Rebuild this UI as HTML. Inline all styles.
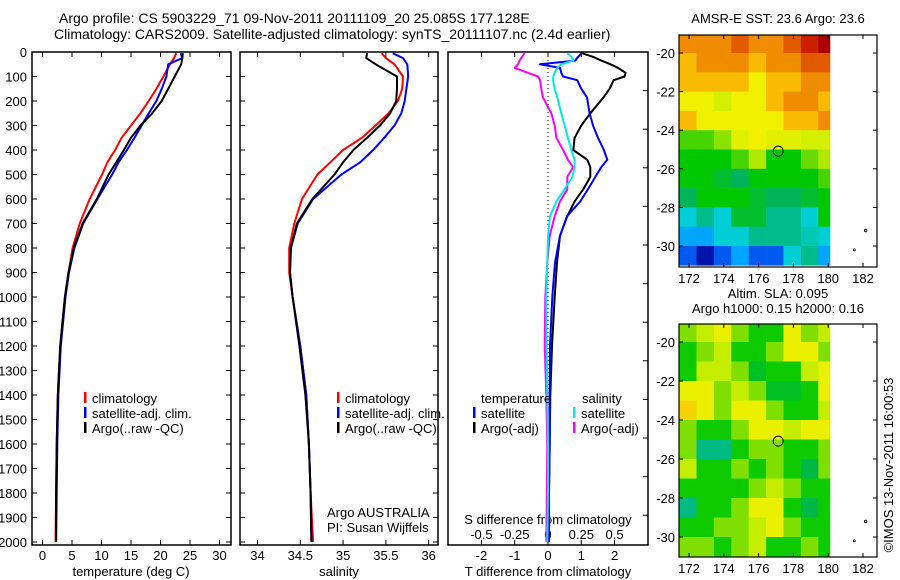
<!DOCTYPE html>
<html><head><meta charset="utf-8">
<style>
html,body{margin:0;padding:0;background:#fff;}
svg{display:block;font-family:"Liberation Sans",sans-serif;}
text{font-size:13px;fill:#000;}
</style></head>
<body>
<svg id="fig" width="900" height="580" viewBox="0 0 900 580">
<text x="59" y="23" style="font-size:14px">Argo profile: CS 5903229_71 09-Nov-2011 20111109_20 25.085S 177.128E</text>
<text x="54" y="39" style="font-size:14px">Climatology: CARS2009. Satellite-adjusted climatology: synTS_20111107.nc (2.4d earlier)</text>
<g id="g1"></g>
<g id="g2"></g>
<g id="g3"></g>
<g id="g4"></g>
<g id="g5"></g>
<text x="778" y="23" text-anchor="middle">AMSR-E SST: 23.6 Argo: 23.6</text>
<text x="778" y="298" text-anchor="middle">Altim. SLA: 0.095</text>
<text x="778" y="313" text-anchor="middle">Argo h1000: 0.15 h2000: 0.16</text>
<text transform="translate(893,465) rotate(-90)" text-anchor="middle">©IMOS 13-Nov-2011 16:00:53</text>
<text x="327" y="517">Argo AUSTRALIA</text>
<text x="327" y="532">PI: Susan Wijffels</text>
</svg>
<script>
// ---- profile data ----
const depths = [5,25,50,100,150,200,250,300,350,400,450,500,600,700,800,900,1000,1200,1400,1600,1800,2000];
const tempClim = [22.7,22.3,21.6,20.5,19.3,18.0,16.6,15.0,13.4,12.3,11.0,10.1,8.0,6.3,5.1,4.4,3.8,3.0,2.6,2.4,2.3,2.2];
const tempSat  = [23.4,23.7,21.3,21.0,20.2,19.3,18.0,16.8,15.6,14.3,12.9,11.8,9.3,6.9,5.4,4.5,3.9,3.1,2.7,2.5,2.4,2.3];
const tempArgo = [23.8,23.7,23.5,22.4,21.3,20.2,18.6,16.6,15.0,13.8,12.5,11.2,9.2,6.8,5.3,4.4,3.8,3.0,2.6,2.4,2.3,2.3];
const salClim = [35.45,35.50,35.60,35.70,35.69,35.64,35.53,35.38,35.22,35.00,34.85,34.70,34.52,34.43,34.37,34.37,34.41,34.50,34.57,34.60,34.62,34.65];
const salSat  = [35.58,35.70,35.75,35.76,35.74,35.72,35.68,35.60,35.48,35.35,35.20,34.98,34.65,34.47,34.39,34.38,34.41,34.50,34.57,34.60,34.62,34.63];
const salArgo = [35.28,35.27,35.38,35.63,35.63,35.62,35.55,35.43,35.28,35.12,35.00,34.90,34.64,34.46,34.39,34.38,34.41,34.49,34.56,34.60,34.62,34.63];
const diffDepths = [5,20,35,50,65,85,100,115,150,185,250,300,350,400,440,470,510,560,610,670,750,860,1000,1200,1400,1600,1800,2000];
const dTSat  = [1.02,0.9,0.82,-0.24,0.36,0.4,0.45,0.88,1.0,1.17,1.25,1.35,1.5,1.68,1.78,1.6,1.42,1.2,0.97,0.57,0.36,0.21,0.13,0.06,0.05,0.05,0.03,0.02];
const dTArgo = [1.02,1.36,1.6,1.88,2.1,2.33,2.3,1.97,1.85,1.67,1.27,1.0,0.8,0.76,1.18,1.27,1.27,1.06,0.8,0.58,0.36,0.27,0.2,0.12,0.07,0.05,0.03,0.03];
const dSSat  = [0.145,0.175,0.19,0.1,0.068,0.05,0.04,0.038,0.05,0.07,0.1,0.125,0.15,0.175,0.2,0.2,0.183,0.125,0.063,0.015,0,-0.005,-0.013,-0.01,-0.005,0,0,-0.005];
const dSArgo = [-0.175,-0.195,-0.213,-0.225,-0.25,-0.15,-0.075,-0.06,-0.05,-0.038,0.025,0.05,0.063,0.113,0.15,0.188,0.145,0.145,0.09,0.05,0.013,-0.005,-0.02,-0.025,-0.013,-0.005,-0.008,-0.013];
const depthTicks = [0,100,200,300,400,500,600,700,800,900,1000,1100,1200,1300,1400,1500,1600,1700,1800,1900,2000];
const tempTicks = [0,5,10,15,20,25,30];
const salTicks = [34,34.5,35,35.5,36];
const dTTicks = [-2,-1,0,1,2];
const dSTicks = [-0.5,-0.25,0,0.25,0.5];
const dSTickLabels = ['-0.5','-0.25','0','0.25','0.5'];
// ---- map data (1 degree cells, rows from -19 southward, cols from 171.5 east) ----
const sstGrid = [
[24.7,24.7,24.7,24.9,24.7,24.7,24.9,25.1,25.3],
[24.4,24.7,24.7,24.7,24.4,24.7,24.7,24.9,24.9],
[24.4,24.4,24.4,24.4,24.1,24.4,24.4,24.7,24.7],
[24.1,24.1,23.9,24.1,24.1,24.4,24.7,24.7,24.4],
[24.4,24.1,24.1,24.1,24.1,24.1,24.4,24.4,24.7],
[23.5,23.5,23.7,24.0,24.1,24.0,24.0,23.9,23.9],
[23.3,23.3,23.3,23.5,23.8,23.3,23.3,23.6,23.8],
[23.3,23.3,23.2,23.1,23.3,23.3,23.3,23.3,23.5],
[23.1,23.3,23.3,23.3,23.2,23.1,23.1,23.2,23.3],
[22.8,23.0,22.8,23.2,23.2,23.0,23.0,22.8,23.3],
[22.6,22.6,22.8,22.8,23.0,23.0,23.0,22.9,22.8],
[22.3,21.9,22.3,22.6,22.3,22.3,22.8,23.0,22.6]];
const slaGrid = [
[0.04,0.09,0.14,0.04,-0.04,-0.04,0.14,0.04,0.09],
[-0.04,0.04,0.09,-0.04,-0.04,0.04,0.14,0.14,0.04],
[-0.04,0.09,0.09,0.04,-0.07,-0.04,-0.04,0.09,0.14],
[0.14,0.14,0.04,0.09,0.04,-0.07,-0.07,-0.04,0.14],
[0.19,0.14,0.04,0.14,0.14,0.04,-0.04,-0.04,0.09],
[0.04,-0.04,-0.04,0.04,0.14,0.14,0.09,0.14,0.14],
[0.04,-0.12,-0.12,-0.04,0.04,0.04,-0.04,-0.04,0.04],
[0.09,-0.04,-0.04,0.04,-0.04,0.04,-0.04,-0.09,0.04],
[-0.04,-0.04,-0.04,-0.04,0.04,0.09,0.04,-0.04,-0.04],
[-0.12,-0.04,-0.04,0.04,0.14,0.14,-0.04,-0.09,-0.04],
[-0.04,-0.04,0.04,0.04,0.09,0.14,0.04,-0.04,-0.04],
[0.04,0.04,-0.04,0.04,0.09,-0.04,-0.04,0.04,-0.04]];
const lonTicks = [172,174,176,178,180,182];
const latTicks = [-20,-22,-24,-26,-28,-30];
const argoLon = 177.128, argoLat = -25.085;

const NS='http://www.w3.org/2000/svg';
function mk(parent,tag,attrs,txt){const e=document.createElementNS(NS,tag);for(const k in attrs)e.setAttribute(k,attrs[k]);if(txt!==undefined)e.textContent=txt;parent.appendChild(e);return e;}
const yD = d => 52 + d*0.245;
const PT = 545;

function panel(g,x0,x1,name){
  const r=mk(g,'rect',{x:x0,y:52,width:x1-x0,height:PT-52,fill:'none',stroke:'#000','stroke-width':1.5});
  
  
}
function line(g,xs,ys,color,name,w){
  const pts=xs.map((v,i)=>xs[i].toFixed(1)+','+ys[i].toFixed(1)).join(' ');
  const p=mk(g,'polyline',{points:pts,fill:'none',stroke:color,'stroke-width':w||2,'stroke-linejoin':'round'});
  
  
}
function legend(g,x,y,color,label,name){
  mk(g,'rect',{x:x,y:y-6,width:2.5,height:11,fill:color});
  const t=mk(g,'text',{x:x+8,y:y+5},label);
  
  
}
function yTicks(g,x0,x1,left,right){
  depthTicks.forEach(d=>{const y=yD(d);
    if(left)mk(g,'line',{x1:x0,x2:x0+5,y1:y,y2:y,stroke:'#000'});
    if(right)mk(g,'line',{x1:x1-5,x2:x1,y1:y,y2:y,stroke:'#000'});});
}
function xTicks(g,ticks,fx,labels,ylab){
  ticks.forEach((v,i)=>{const x=fx(v);
    mk(g,'line',{x1:x,x2:x,y1:52,y2:57,stroke:'#000'});
    mk(g,'line',{x1:x,x2:x,y1:PT-5,y2:PT,stroke:'#000'});
    const t=mk(g,'text',{x:x,y:ylab,'text-anchor':'middle'},labels?labels[i]:String(v));
    
    });
}
// Panel 1 temperature
const g1=document.getElementById('g1');
const xT = t => 42.5 + t*5.9;
panel(g1,32,231,'temperature');
yTicks(g1,32,231,true,true);
depthTicks.forEach(d=>{const t=mk(g1,'text',{x:27,y:yD(d)+5,'text-anchor':'end'},String(d));
  
  });
xTicks(g1,tempTicks,xT,null,560);
line(g1,tempClim.map(xT),depths.map(yD),'#f00','temp-climatology-line');
line(g1,tempSat.map(xT),depths.map(yD),'#0000ff','temp-satellite-line');
line(g1,tempArgo.map(xT),depths.map(yD),'#000','temp-argo-line');
legend(g1,84,398,'#f00','climatology','legend-climatology');
legend(g1,84,413,'#0000ff','satellite-adj. clim.','legend-satellite');
legend(g1,84,428,'#000','Argo(..raw -QC)','legend-argo');
mk(g1,'text',{x:131,y:576,'text-anchor':'middle'},'temperature (deg C)');

// Panel 2 salinity
const g2=document.getElementById('g2');
const xS = s => 257.5 + (s-34)*85.6;
panel(g2,240,438,'salinity');
yTicks(g2,240,438,true,true);
xTicks(g2,salTicks,xS,['34','34.5','35','35.5','36'],560);
line(g2,salClim.map(xS),depths.map(yD),'#f00','sal-climatology-line');
line(g2,salSat.map(xS),depths.map(yD),'#0000ff','sal-satellite-line');
line(g2,salArgo.map(xS),depths.map(yD),'#000','sal-argo-line');
legend(g2,337,398,'#f00','climatology','legend-climatology-2');
legend(g2,337,413,'#0000ff','satellite-adj. clim.','legend-satellite-2');
legend(g2,337,428,'#000','Argo(..raw -QC)','legend-argo-2');
mk(g2,'text',{x:339,y:576,'text-anchor':'middle'},'salinity');

// Panel 3 differences
const g3=document.getElementById('g3');
const xDT = t => 548 + t*33.3;
const xDS = s => 548 + s*133.2;
panel(g3,448,648,'difference');
for(let y=52;y<PT;y+=38.6){mk(g3,'line',{x1:643,x2:648,y1:y,y2:y,stroke:'#000'});}
xTicks(g3,dTTicks,xDT,null,560);
dSTicks.forEach((v,i)=>{const t=mk(g3,'text',{x:xDS(v),y:539,'text-anchor':'middle'},dSTickLabels[i]);
  
  });
mk(g3,'text',{x:548,y:524,'text-anchor':'middle'},'S difference from climatology');
mk(g3,'line',{x1:548,x2:548,y1:52,y2:PT,stroke:'#000','stroke-dasharray':'1,3'});
line(g3,dSArgo.map(xDS),diffDepths.map(yD),'#ff00ff','sal-diff-argo-line');
line(g3,dTArgo.map(xDT),diffDepths.map(yD),'#000','temp-diff-argo-line');
line(g3,dTSat.map(xDT),diffDepths.map(yD),'#0000ff','temp-diff-satellite-line');
line(g3,dSSat.map(xDS),diffDepths.map(yD),'#00e8f0','sal-diff-satellite-line');
mk(g3,'text',{x:481,y:403},'temperature');
mk(g3,'text',{x:582,y:403},'salinity');
legend(g3,473,413,'#0000ff','satellite','legend-temp-satellite');
legend(g3,473,428,'#000','Argo(-adj)','legend-temp-argo');
legend(g3,573,413,'#00e8f0','satellite','legend-sal-satellite');
legend(g3,573,428,'#ff00ff','Argo(-adj)','legend-sal-argo');
mk(g3,'text',{x:548,y:576,'text-anchor':'middle'},'T difference from climatology');

// colormap
const stops=[[0.05,[0,0,140]],[0.1,[0,20,170]],[0.2,[0,90,240]],[0.28,[0,170,255]],[0.33,[0,210,210]],[0.37,[0,190,150]],[0.4,[0,180,90]],[0.45,[0,200,0]],[0.55,[140,225,0]],[0.6,[210,240,0]],[0.65,[240,240,0]],[0.72,[250,190,0]],[0.8,[240,140,0]],[0.85,[225,90,0]],[0.9,[205,30,0]],[0.95,[170,0,0]]];
function cmap(v){if(v<=stops[0][0])return stops[0][1];
  for(let i=1;i<stops.length;i++){if(v<=stops[i][0]){const a=stops[i-1],b=stops[i],f=(v-a[0])/(b[0]-a[0]);
    return a[1].map((c,k)=>Math.round(c+(b[1][k]-c)*f));}}
  return stops[stops.length-1][1];}

function drawMap(g,top,bottom,lat20y,lat30y,grid,toV,name,lonLabels){
  const L=679,R=877;
  const fx = lon => 689 + (lon-172)*17.4;
  const fy = lat => lat20y + (-20-lat)*(lat30y-lat20y)/10;
  const clipTop = top, clipBot = bottom;
  grid.forEach((row,r)=>row.forEach((val,c)=>{
    const lon0=171.43+c, lon1=Math.min(lon0+1,180.1);
    const latT=-19+(-r), latB=latT-1;
    const y0=Math.max(fy(latT),clipTop), y1=Math.min(fy(latB),clipBot);
    const x0=Math.max(fx(lon0),L);
    const col=cmap(toV(val));
    const cell=mk(g,'rect',{x:x0.toFixed(1),y:y0.toFixed(1),width:(fx(lon1)-x0+0.3).toFixed(1),height:(y1-y0+0.3).toFixed(1),fill:'rgb('+col.join(',')+')'});
    
    
  }));
  const fr=mk(g,'rect',{x:L,y:top,width:R-L,height:bottom-top,fill:'none',stroke:'#000','stroke-width':1.2});
  
  
  lonTicks.forEach(lon=>{const x=fx(lon);
    mk(g,'line',{x1:x,x2:x,y1:top,y2:top+4,stroke:'#000'});
    mk(g,'line',{x1:x,x2:x,y1:bottom-4,y2:bottom,stroke:'#000'});
    const t=mk(g,'text',{x:x,y:bottom+16,'text-anchor':'middle'},String(lon));
    
    });
  latTicks.forEach(lat=>{const y=fy(lat);
    mk(g,'line',{x1:L,x2:L+4,y1:y,y2:y,stroke:'#000'});
    mk(g,'line',{x1:R-4,x2:R,y1:y,y2:y,stroke:'#000'});
    const t=mk(g,'text',{x:L-4,y:y+5,'text-anchor':'end'},String(lat));
    
    });
  mk(g,'circle',{cx:fx(182.15),cy:fy(-29.2),r:1.3,fill:'none',stroke:'#000','stroke-width':0.8});
  mk(g,'circle',{cx:fx(181.5),cy:fy(-30.2),r:1,fill:'none',stroke:'#000','stroke-width':0.8});
  const c=mk(g,'circle',{cx:fx(argoLon),cy:fy(argoLat),r:5,fill:'none',stroke:'#000','stroke-width':1});
  
  
}
drawMap(document.getElementById('g4'),35,267,53,246,sstGrid,v=>(v-21.5)/4,'sst-map');
drawMap(document.getElementById('g5'),324,557,342,537,slaGrid,v=>v+0.5,'sla-map');
</script>
</body></html>
